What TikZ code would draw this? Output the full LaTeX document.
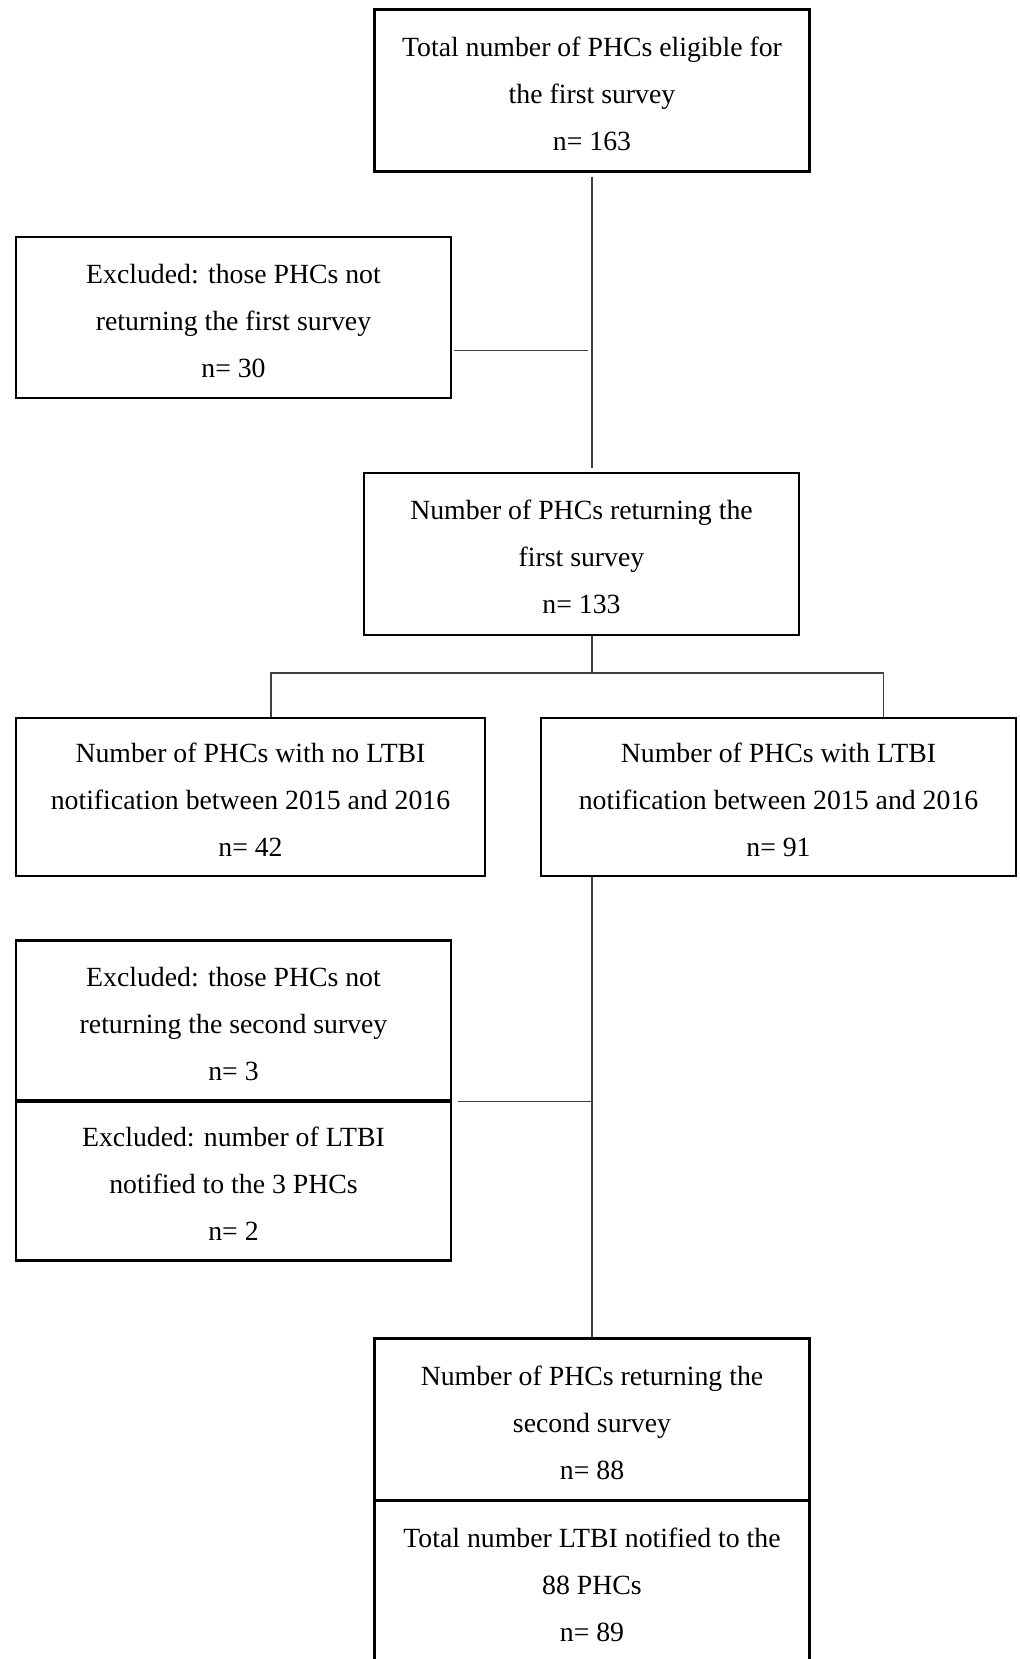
\documentclass[tikz,border=0pt]{standalone}
\usepackage{fontspec}
\setmainfont{Liberation Serif}
\newcommand{\topgap}{\rule{0pt}{0.92em}}

\begin{document}
\begin{tikzpicture}
\tikzset{phcbox/.style={draw=black,line width=1.3pt,rectangle,align=center,inner sep=0pt,
        minimum width=8.7cm,minimum height=3.24cm,font=\fontsize{15.8}{26.8}\selectfont},
    link/.style={draw=black!75,line width=0.6pt}}
\useasboundingbox (0,0) rectangle (20.38,-33.18);
\clip (0,0) rectangle (20.38,-33.18);
% boxes
\node[phcbox](total) at (11.84,-1.81){\topgap Total number of PHCs eligible for\\the first survey\\n= 163};
\node[phcbox,minimum height=3.22cm](excl1) at (4.67,-6.35){\topgap Excluded: those PHCs not\\returning the first survey\\n= 30};
\node[phcbox](first) at (11.63,-11.08){\topgap Number of PHCs returning the\\first survey\\n= 133};
\node[phcbox,minimum width=9.38cm,minimum height=3.17cm](noltbi) at (5.01,-15.94){\topgap Number of PHCs with no LTBI\\notification between 2015 and 2016\\n= 42};
\node[phcbox,minimum width=9.5cm,minimum height=3.17cm](ltbi) at (15.57,-15.94){\topgap Number of PHCs with LTBI\\notification between 2015 and 2016\\n= 91};
\node[phcbox,minimum height=3.2cm](excl2) at (4.67,-20.41){\topgap Excluded: those PHCs not\\returning the second survey\\n= 3};
\node[phcbox,minimum height=3.18cm](excl3) at (4.67,-23.62){\topgap Excluded: number of LTBI\\notified to the 3 PHCs\\n= 2};
\node[phcbox](second) at (11.84,-28.39){\topgap Number of PHCs returning the\\second survey\\n= 88};
\node[phcbox](total2) at (11.84,-31.63){\topgap Total number LTBI notified to the\\88 PHCs\\n= 89};
% lines
\coordinate (lsplit) at (5.42,-13.46);
\coordinate (rsplit) at (17.67,-13.46);
\draw[link] ([yshift=-0.08cm]total.south) -- ([yshift=0.08cm]total.south |- first.north);
\draw[link] ([xshift=0.04cm,yshift=-0.66cm]excl1.east) -- ([xshift=-0.08cm,yshift=-0.66cm]excl1.east -| total.south);
\draw[link] (total.south |- first.south) -- (total.south |- lsplit);
\draw[link] (lsplit |- noltbi.north) -- (lsplit) -- (rsplit) -- (rsplit |- ltbi.north);
\draw[link] (total.south |- ltbi.south) -- (second.north);
\draw[link] ([xshift=0.12cm]excl2.south east) -- (excl2.south east -| second.north);
\end{tikzpicture}
\end{document}
